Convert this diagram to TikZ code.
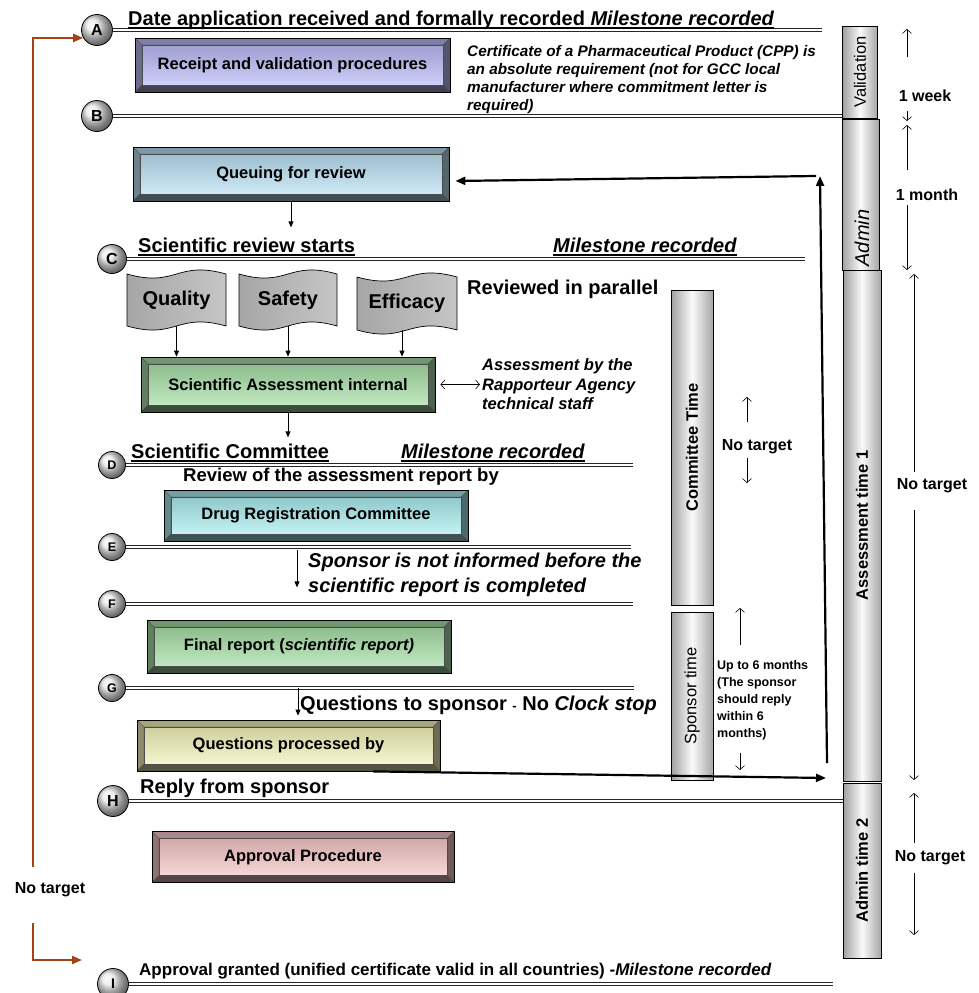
\documentclass[tikz,border=0pt]{standalone}
\usepackage{fontspec}
\setmainfont{Liberation Sans}
\usepackage{tikz}
\usetikzlibrary{arrows.meta}

\definecolor{RegLilac}{RGB}{186,186,246}
\definecolor{RegSky}{RGB}{186,224,242}
\definecolor{RegMint}{RGB}{166,222,166}
\definecolor{RegAqua}{RGB}{170,236,238}
\definecolor{RegLemon}{RGB}{242,242,186}
\definecolor{RegRose}{RGB}{246,198,198}
\definecolor{RegBrown}{RGB}{165,66,18}

\newcommand{\headfont}{\fontsize{20}{25}\selectfont\bfseries}
\newcommand{\boxfont}{\fontsize{16.5}{19}\selectfont\bfseries}
\newcommand{\cppfont}{\fontsize{15.3}{18}\selectfont\bfseries\itshape}
\newcommand{\rappfont}{\fontsize{16.5}{19.5}\selectfont\bfseries\itshape}
\newcommand{\reviewfont}{\fontsize{18.5}{22}\selectfont\bfseries}
\newcommand{\barfont}{\fontsize{16.5}{19}\selectfont}
\newcommand{\spanfont}{\fontsize{16}{18}\selectfont\bfseries}
\newcommand{\waitfont}{\fontsize{12.5}{17}\selectfont\bfseries}
\newcommand{\uln}[1]{\leavevmode\setbox0\hbox{#1}\rlap{\rule[-3.5pt]{\wd0}{1.1pt}}\box0}

\tikzset{
  mile/.style={circle, draw=black, line width=0.8pt, shading=ball, ball color=gray!18,
    minimum size=31, inner sep=0pt, font=\fontsize{16}{16}\selectfont\bfseries},
  minor/.style={mile, minimum size=27, font=\fontsize{12.5}{12.5}\selectfont\bfseries},
  rail/.style={draw=black!85, line width=0.8pt, double=white, double distance=1.6pt},
  bevel/.style={rectangle, draw=black, line width=0.8pt, fill=#1!35!black, inner sep=0pt,
    font=\boxfont, align=center,
    path picture={
      \path (path picture bounding box.north west) coordinate (pnw)
            (path picture bounding box.north east) coordinate (pne)
            (path picture bounding box.south east) coordinate (pse)
            (path picture bounding box.south west) coordinate (psw);
      \filldraw[draw=black!70, line width=0.3pt, fill=#1!68!black]
        (pnw) -- (pne) -- ([shift={(-7pt,-7pt)}]pne) -- ([shift={(7pt,-7pt)}]pnw) -- cycle;
      \filldraw[draw=black!70, line width=0.3pt, fill=#1!58!black]
        (pnw) -- (psw) -- ([shift={(7pt,7pt)}]psw) -- ([shift={(7pt,-7pt)}]pnw) -- cycle;
      \filldraw[draw=black!70, line width=0.3pt, fill=#1!45!black]
        (pne) -- (pse) -- ([shift={(-7pt,7pt)}]pse) -- ([shift={(-7pt,-7pt)}]pne) -- cycle;
      \filldraw[draw=black!70, line width=0.3pt, fill=#1!35!black]
        (psw) -- (pse) -- ([shift={(-7pt,7pt)}]pse) -- ([shift={(7pt,7pt)}]psw) -- cycle;
      \shade[top color=#1!85!black, bottom color=#1!70!white]
        ([shift={(7pt,-7pt)}]pnw) rectangle ([shift={(-7pt,7pt)}]pse);
      \draw[black!70, line width=0.4pt]
        ([shift={(7pt,-7pt)}]pnw) rectangle ([shift={(-7pt,7pt)}]pse);
    }},
  bar/.style={rectangle, draw=black, line width=0.8pt, inner sep=0pt,
    left color=gray!75, right color=gray!70, middle color=white!96!gray},
  tapetext/.style={inner sep=0pt, font=\fontsize{20}{24}\selectfont\bfseries},
  head/.style={font=\headfont, inner sep=0pt, anchor=base west},
  note/.style={inner sep=0pt, align=left, anchor=west},
  span/.style={font=\spanfont, inner sep=0pt},
  link/.style={-{Triangle[length=6pt,width=5pt]}, line width=0.8pt},
  flow/.style={-{Triangle[length=10pt,width=8pt]}, line width=2.2pt},
  tick/.style={-{Straight Barb[length=4pt,width=9pt]}, line width=0.6pt},
  twoway/.style={{Straight Barb[length=4pt,width=9pt]}-{Straight Barb[length=4pt,width=9pt]}, line width=0.6pt},
  back/.style={-{Triangle[length=10pt,width=8pt]}, line width=2pt, draw=RegBrown}
}

\newcommand{\tape}[6]{%
  \shadedraw[left color=gray!70, middle color=white, right color=gray!45, draw=black, line width=0.7pt]
    (#2,#3) .. controls ({(#2+#4)/2},{#3+14}) and ({(#2+#4)/2},{#3-14}) .. (#4,#3)
    -- (#4,#5) .. controls ({(#2+#4)/2},{#5-14}) and ({(#2+#4)/2},{#5+14}) .. (#2,#5) -- cycle;
  \node[tapetext, minimum width={#4-#2}, minimum height={#5-#3}] (#1)
    at ({(#2+#4)/2},{(#3+#5)/2}) {#6};}

\begin{document}
\begin{tikzpicture}[x=1pt, y=-1pt]
  \useasboundingbox (0,0) rectangle (978,993);

  \node[bar, minimum width=35, minimum height=92]  (valid)   at (860,72)    {\rotatebox{90}{\barfont Validation}};
  \node[bar, minimum width=37, minimum height=151] (admin)   at (860.5,194.5) {};
  \node[font=\fontsize{20}{20}\selectfont\itshape, rotate=90, inner sep=0pt] (admintxt) at (862,238) {Admin};
  \node[bar, minimum width=38, minimum height=511] (assess)  at (862,525.5) {\rotatebox{90}{\barfont\bfseries Assessment time 1}};
  \node[bar, minimum width=38, minimum height=175] (admtwo)  at (862,870.5) {\rotatebox{90}{\barfont\bfseries Admin time 2}};
  \node[bar, minimum width=42, minimum height=315] (commit)  at (692,447.5) {\rotatebox{90}{\barfont\bfseries Committee Time}};
  \node[bar, minimum width=42, minimum height=168] (sponsor) at (692,696)   {\rotatebox{90}{\barfont Sponsor time}};

  \node[mile]  (a) at (97,30)   {A};
  \node[mile]  (b) at (97,116)  {B};
  \node[mile, minimum size=29] (c) at (112,259) {C};
  \node[minor] (d) at (112,465) {D};
  \node[minor] (e) at (112,547) {E};
  \node[minor] (f) at (112,604) {F};
  \node[minor] (g) at (112,688) {G};
  \node[mile]  (h) at (113,801) {H};
  \node[mile, font=\fontsize{14}{14}\selectfont\bfseries] (i) at (113,984) {I};

  \coordinate (railA) at (822,30);
  \coordinate (railC) at (805,259);
  \coordinate (railD) at (633,465);
  \coordinate (railE) at (631,547);
  \coordinate (railF) at (633,604);
  \coordinate (railG) at (634,688);
  \coordinate (railI) at (833,984);

  \draw[rail] (a) -- (railA);
  \draw[rail] (b) -- (b -| valid.west);
  \draw[rail] (c) -- (railC);
  \draw[rail] (d) -- (railD);
  \draw[rail] (e) -- (railE);
  \draw[rail] (f) -- (railF);
  \draw[rail] (g) -- (railG);
  \draw[rail] (h) -- (h -| admtwo.west);
  \draw[rail] (i) -- (railI);

  \node[head] (atitle) at (128,25)  {\uln{Date application received and formally recorded \textit{Milestone recorded}}};
  \node[head] (ctitle) at (138,252) {\uln{Scientific review starts}};
  \node[head] (cmile)  at (553,252) {\uln{\textit{Milestone recorded}}};
  \node[head] (dtitle) at (131,458) {\uln{Scientific Committee}};
  \node[head] (dmile)  at (401,458) {\uln{\textit{Milestone recorded}}};
  \node[head] (htitle) at (140,793) {Reply from sponsor};
  \node[head, font=\fontsize{17}{20}\selectfont\bfseries] (ititle) at (139,975)
    {Approval granted (unified certificate valid in all countries) -\textit{Milestone recorded}};

  \node[bevel=RegLilac, minimum width=315, minimum height=54] (receipt)   at (292.5,65)   {Receipt and validation procedures};
  \node[bevel=RegSky,   minimum width=316, minimum height=54] (queue)     at (291,174)    {Queuing for review};
  \node[bevel=RegMint,  minimum width=294, minimum height=55] (sci)       at (288,384.5)  {Scientific Assessment internal};
  \node[bevel=RegAqua,  minimum width=304, minimum height=51] (drc)       at (316,515.5)  {Drug Registration Committee};
  \node[bevel=RegMint,  minimum width=304, minimum height=53] (final)     at (299,646.5)  {Final report (\textit{scientific report)}};
  \node[bevel=RegLemon, minimum width=303, minimum height=51] (questions) at (288.5,745.5) {Questions processed by};
  \node[bevel=RegRose,  minimum width=302, minimum height=51] (approval)  at (303,857)    {Approval Procedure};

  \tape{quality}{127}{274}{226}{326}{Quality}
  \tape{safety}{239}{274}{337}{326}{Safety}
  \tape{efficacy}{357}{277}{457}{330}{Efficacy}

  \node[note, font=\cppfont] (cpp) at (467,80)
    {Certificate of a Pharmaceutical Product (CPP) is\\an absolute requirement (not for GCC local\\manufacturer where commitment letter is\\required)};
  \node[head] (parallel) at (467,294) {Reviewed in parallel};
  \node[note, font=\rappfont] (rapp) at (482,384.5) {Assessment by the\\Rapporteur Agency\\technical staff};
  \node[head, font=\reviewfont] (reviewby) at (183,481) {Review of the assessment report by};
  \node[note, font={\headfont\itshape}] (notinf) at (308,575) {Sponsor is not informed before the\\scientific report is completed};
  \node[head] (qsponsor) at (300,710) {Questions to sponsor {\fontsize{13}{13}\selectfont -} No \textit{Clock stop}};

  \node[span] (week)  at (925,96)  {1 week};
  \node[span] (month) at (927,195) {1 month};
  \node[span] (ntass) at (932,486) {No target};
  \node[span] (ntadm) at (930,858) {No target};
  \node[span] (ntcom) at (757,447) {No target};
  \node[span] (ntall) at (50,890)  {No target};
  \node[note, font=\waitfont] (upto) at (717,700) {Up to 6 months\\(The sponsor\\should reply\\within 6\\months)};

  \draw[link] (queue.south) -- ++(0,26);
  \draw[link] (quality.south) -- (quality.south |- sci.north);
  \draw[link] (safety.south) -- (safety.south |- sci.north);
  \draw[link] ([xshift=-5pt]efficacy.south) -- ([xshift=-5pt]efficacy.south |- sci.north);
  \draw[link] (sci.south) -- ++(0,25);
  \draw[twoway] ([xshift=5pt]sci.east) -- ([xshift=-2pt]rapp.west);
  \draw[link] ([xshift=-19pt,yshift=-9pt]drc.south) -- ++(0,37);
  \draw[link] ([xshift=9.5pt]questions.north |- g) -- ([xshift=9.5pt,yshift=4pt]questions.north);

  \coordinate (retin)  at (826,778);
  \coordinate (retbot) at (827,763);
  \coordinate (rettop) at (820,176);
  \draw[flow] ([xshift=-67pt]questions.south east) -- (retin);
  \draw[flow] (retbot) -- (rettop);
  \draw[flow] ([xshift=-4pt]rettop) -- ([xshift=6pt,yshift=-7pt]queue.east);

  \coordinate (brA) at (33,867);
  \coordinate (brB) at (33,923);
  \coordinate (brI) at (82,960);
  \draw[back] (brA) |- (a.210);
  \draw[back] (brB) |- (brI);

  \path (907,57)  coordinate (wk1) (907,29)  coordinate (wk2)
        (907,111) coordinate (wk3) (907,121) coordinate (wk4)
        (907,170) coordinate (mo1) (907,125) coordinate (mo2)
        (907,205) coordinate (mo3) (907,270) coordinate (mo4)
        (914,472) coordinate (as1) (914,274) coordinate (as2)
        (914,510) coordinate (as3) (914,780) coordinate (as4)
        (914,843) coordinate (ad1) (914,793) coordinate (ad2)
        (914,873) coordinate (ad3) (914,935) coordinate (ad4)
        (747,422) coordinate (co1) (747,397) coordinate (co2)
        (747,458) coordinate (co3) (747,483) coordinate (co4)
        (740,645) coordinate (sp1) (740,608) coordinate (sp2)
        (740,753) coordinate (sp3) (740,770) coordinate (sp4);
  \foreach \p in {wk,mo,as,ad,co,sp}{
    \draw[tick] (\p1) -- (\p2);
    \draw[tick] (\p3) -- (\p4);
  }
\end{tikzpicture}
\end{document}
